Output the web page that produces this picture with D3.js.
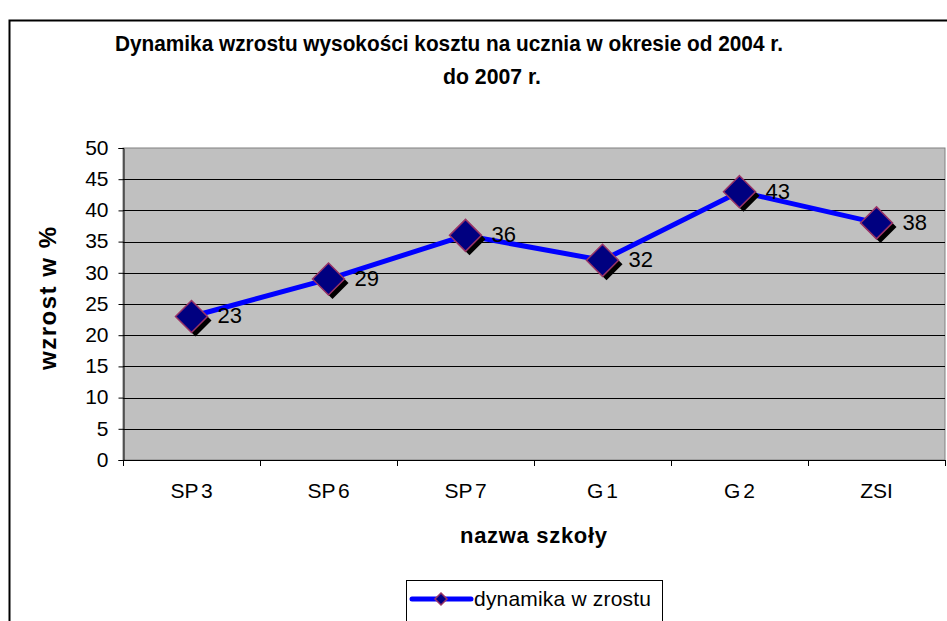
<!DOCTYPE html>
<html>
<head>
<meta charset="utf-8">
<script src="https://cdn.jsdelivr.net/npm/d3@7"></script>
<style>
  body { margin: 0; background: #fff; }
  text { font-family: "Liberation Sans", Arial, sans-serif; fill: #000; }
</style>
</head>
<body>
<div id="chart"></div>
<script>
// data
var schools = ["SP 3", "SP 6", "SP 7", "G 1", "G 2", "ZSI"];
var growth = [23, 29, 36, 32, 43, 38];
var yTicks = [0, 5, 10, 15, 20, 25, 30, 35, 40, 45, 50];
var seriesName = "dynamika w zrostu";

var width = 947, height = 621;
var margin = {top: 148, right: 2, bottom: 161, left: 123};

var svg = d3.select("#chart")
    .append("svg")
    .attr("width", width)
    .attr("height", height);

// outer chart border
svg.append("rect")
   .attr("x", 9.5).attr("y", 20.5)
   .attr("width", 960).attr("height", 700)
   .attr("fill", "#fff")
   .attr("stroke", "#000")
   .attr("stroke-width", 2);

// title (condensed like the original)
svg.append("text")
   .attr("x", 115).attr("y", 51)
   .attr("textLength", 668).attr("lengthAdjust", "spacingAndGlyphs")
   .style("font-size", "22px").style("font-weight", "bold")
   .text("Dynamika wzrostu wysokości kosztu na ucznia w okresie od 2004 r.");
svg.append("text")
   .attr("x", 443).attr("y", 84)
   .attr("textLength", 98).attr("lengthAdjust", "spacingAndGlyphs")
   .style("font-size", "22px").style("font-weight", "bold")
   .text("do 2007 r.");

var x = d3.scaleBand()
    .domain(schools)
    .range([margin.left, width - margin.right]);

var y = d3.scaleLinear()
    .domain([0, 50])
    .range([height - margin.bottom, margin.top]);

// plot area
svg.append("rect")
   .attr("x", margin.left).attr("y", margin.top)
   .attr("width", width - margin.right - margin.left)
   .attr("height", y(0) - y(50))
   .attr("fill", "#c0c0c0")
   .attr("stroke", "#808080");

// grid
svg.append("g")
   .selectAll("line")
   .data(yTicks.filter(d => d > 0 && d < 50))
   .join("line")
   .attr("x1", margin.left).attr("x2", width - margin.right)
   .attr("y1", d => Math.round(y(d)) + 0.5).attr("y2", d => Math.round(y(d)) + 0.5)
   .attr("stroke", "#000");

// y axis
var yAxis = svg.append("g")
   .attr("transform", `translate(${margin.left + 0.5},0)`)
   .call(d3.axisLeft(y).tickValues(yTicks).tickSize(5).tickPadding(10));
yAxis.select(".domain").attr("stroke", "#000");
yAxis.selectAll("text")
     .attr("font-family", "Liberation Sans, Arial, sans-serif")
     .attr("font-size", 21)
     .attr("dy", "0.3em")
     .attr("fill", "#000");

// x axis: ticks at band boundaries
var xAxisG = svg.append("g");
xAxisG.append("line")
   .attr("x1", margin.left).attr("x2", width - margin.right)
   .attr("y1", y(0) + 0.5).attr("y2", y(0) + 0.5)
   .attr("stroke", "#000");
xAxisG.selectAll(".tk")
   .data(schools.concat(["end"]))
   .join("line")
   .attr("class", "tk")
   .attr("x1", (d, i) => margin.left + i * x.bandwidth() + 0.5)
   .attr("x2", (d, i) => margin.left + i * x.bandwidth() + 0.5)
   .attr("y1", y(0)).attr("y2", y(0) + 6)
   .attr("stroke", "#000");
xAxisG.selectAll(".lbl")
   .data(schools)
   .join("text")
   .attr("class", "lbl")
   .attr("x", d => x(d) + x.bandwidth() / 2)
   .attr("y", 498)
   .attr("text-anchor", "middle")
   .style("font-size", "21px")
   .style("word-spacing", "-3px")
   .text(d => d);

// axis titles
svg.append("text")
   .attr("transform", `translate(56,370) rotate(-90)`)
   .attr("textLength", 143).attr("lengthAdjust", "spacing")
   .style("font-size", "24px").style("font-weight", "bold")
   .text("wzrost w %");
svg.append("text")
   .attr("x", 460).attr("y", 543)
   .attr("textLength", 147).attr("lengthAdjust", "spacing")
   .style("font-size", "22px").style("font-weight", "bold")
   .text("nazwa szkoły");

// line
var line = d3.line()
    .x((d, i) => x(schools[i]) + x.bandwidth() / 2)
    .y(d => y(d));

svg.append("path")
   .datum(growth)
   .attr("d", line)
   .attr("fill", "none")
   .attr("stroke", "#0000ff")
   .attr("stroke-width", 5)
   .attr("stroke-linejoin", "round");

var diamond = r => `M0,${-r}L${r},0L0,${r}L${-r},0Z`;

var pts = svg.append("g")
   .selectAll("g")
   .data(growth)
   .join("g")
   .attr("transform", (d, i) => `translate(${x(schools[i]) + x.bandwidth() / 2},${y(d)})`);

pts.append("path")
   .attr("d", diamond(16))
   .attr("transform", "translate(4,4)")
   .attr("fill", "#000");
pts.append("path")
   .attr("d", diamond(16))
   .attr("fill", "#000080")
   .attr("stroke", "#993366")
   .attr("stroke-width", 1.5);
pts.append("text")
   .attr("x", 26).attr("y", 7)
   .style("font-size", "22px")
   .text(d => d);

// legend
var leg = svg.append("g").attr("transform", "translate(406,580)");
leg.append("rect")
   .attr("x", 0.5).attr("y", 0.5)
   .attr("width", 256).attr("height", 60)
   .attr("fill", "#fff").attr("stroke", "#000");
leg.append("line")
   .attr("x1", 6).attr("x2", 65).attr("y1", 19).attr("y2", 19)
   .attr("stroke", "#0000ff").attr("stroke-width", 5).attr("stroke-linecap", "round");
leg.append("path")
   .attr("d", diamond(6))
   .attr("transform", "translate(35,19)")
   .attr("fill", "#000080").attr("stroke", "#993366").attr("stroke-width", 1.5);
leg.append("text")
   .attr("x", 68).attr("y", 26)
   .attr("textLength", 177).attr("lengthAdjust", "spacing")
   .style("font-size", "21px")
   .text(seriesName);
</script>
</body>
</html>
